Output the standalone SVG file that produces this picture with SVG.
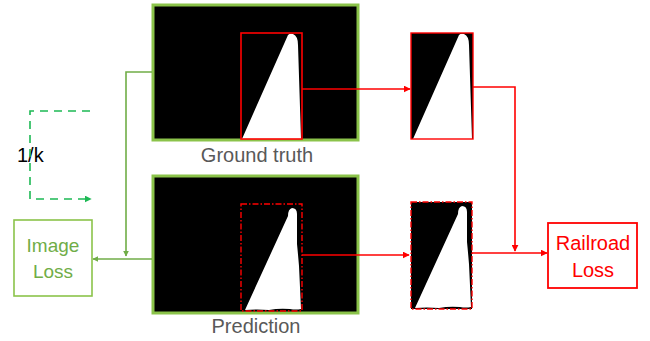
<svg xmlns="http://www.w3.org/2000/svg" width="650" height="341" viewBox="0 0 650 341">
<style>
.img{fill:#000;stroke:#8BC34A;stroke-width:3}
.cap{font-family:"Liberation Sans",Arial,sans-serif;font-size:20px;fill:#595959;text-anchor:middle}
.gl{fill:none;stroke:#70AD47;stroke-width:1.6}
.rl{fill:none;stroke:#FF0000;stroke-width:1.6}
.gt{font-family:"Liberation Sans",Arial,sans-serif;font-size:19px;fill:#70AD47;text-anchor:middle}
.rt{font-family:"Liberation Sans",Arial,sans-serif;font-size:20px;fill:#FF0000;text-anchor:middle}
.dd{fill:none;stroke:#FF0000;stroke-width:1.4;stroke-dasharray:6,2,1.5,2}
</style>
<defs>
<marker id="ag" viewBox="0 0 10 10" refX="9" refY="5" markerWidth="6" markerHeight="6" markerUnits="userSpaceOnUse" orient="auto"><path d="M0,0 L10,5 L0,10 Z" fill="#70AD47"/></marker>
<marker id="ar" viewBox="0 0 10 10" refX="9" refY="5" markerWidth="7" markerHeight="7" markerUnits="userSpaceOnUse" orient="auto"><path d="M0,0 L10,5 L0,10 Z" fill="#FF0000"/></marker>
<marker id="ad" viewBox="0 0 10 10" refX="9" refY="5" markerWidth="7" markerHeight="7" markerUnits="userSpaceOnUse" orient="auto"><path d="M0,0 L10,5 L0,10 Z" fill="#1DB954"/></marker>
<path id="gtShape" d="M1,106 L47,2 Q49,0 52,1 Q57,3 57,12 L60,106 Z" fill="#fff"/>
<path id="prShape" d="M4,106 L47,12 Q47,5 51,4 Q56,4 56,10 L56,40 Q57,50 58,62 L60,105 Q55,106 49,105 Q38,104 28,106 Q16,105 4,106 Z" fill="#fff"/>
</defs>

<g id="ground-truth">
<rect class="img" x="153" y="5" width="205" height="135"/>
<use href="#gtShape" x="241" y="33"/>
<rect x="241" y="33" width="61" height="106" fill="none" stroke="#FF0000" stroke-width="1.6"/>
<text class="cap" x="257" y="162">Ground truth</text>
</g>

<g id="gt-crop">
<rect x="411" y="33" width="62" height="106" fill="#000"/>
<use href="#gtShape" x="412" y="33"/>
<rect x="411" y="33" width="62" height="106" fill="none" stroke="#FF0000" stroke-width="1.4"/>
</g>

<g id="prediction">
<rect class="img" x="153" y="176" width="205" height="137"/>
<use href="#prShape" x="241" y="204"/>
<rect class="dd" x="241" y="204" width="61" height="107"/>
<text class="cap" x="256" y="333">Prediction</text>
</g>

<g id="pred-crop">
<rect x="411" y="202" width="61" height="107" fill="#000"/>
<use href="#prShape" x="411" y="202"/>
<rect class="dd" x="411" y="202" width="61" height="107"/>
</g>

<g id="image-loss">
<rect x="14" y="220" width="78" height="76" fill="#fff" stroke="#8BC34A" stroke-width="1.6"/>
<text class="gt" x="53" y="252">Image</text>
<text class="gt" x="53" y="278">Loss</text>
</g>

<g id="railroad-loss">
<rect x="548" y="223" width="89" height="65" fill="#fff" stroke="#FF0000" stroke-width="1.8"/>
<text class="rt" x="593" y="250">Railroad</text>
<text class="rt" x="593" y="277">Loss</text>
</g>

<g id="k-label">
<text x="17" y="162" font-family="'Liberation Sans',Arial,sans-serif" font-size="20" fill="#000">1/k</text>
</g>

<g id="connectors">
<path class="gl" d="M152,72 H126 V256" marker-end="url(#ag)"/>
<path class="gl" d="M152,259 H93" marker-end="url(#ag)"/>
<path class="rl" d="M302,89 H410" marker-end="url(#ar)"/>
<path class="rl" d="M302,255 H409" marker-end="url(#ar)"/>
<path class="rl" d="M473,87 H515 V251" marker-end="url(#ar)"/>
<path class="rl" d="M472,253 H547" marker-end="url(#ar)"/>
<path d="M90,111 H30 V199 H91" fill="none" stroke="#1DB954" stroke-width="1.6" stroke-dasharray="8,6" marker-end="url(#ad)"/>
</g>
</svg>
